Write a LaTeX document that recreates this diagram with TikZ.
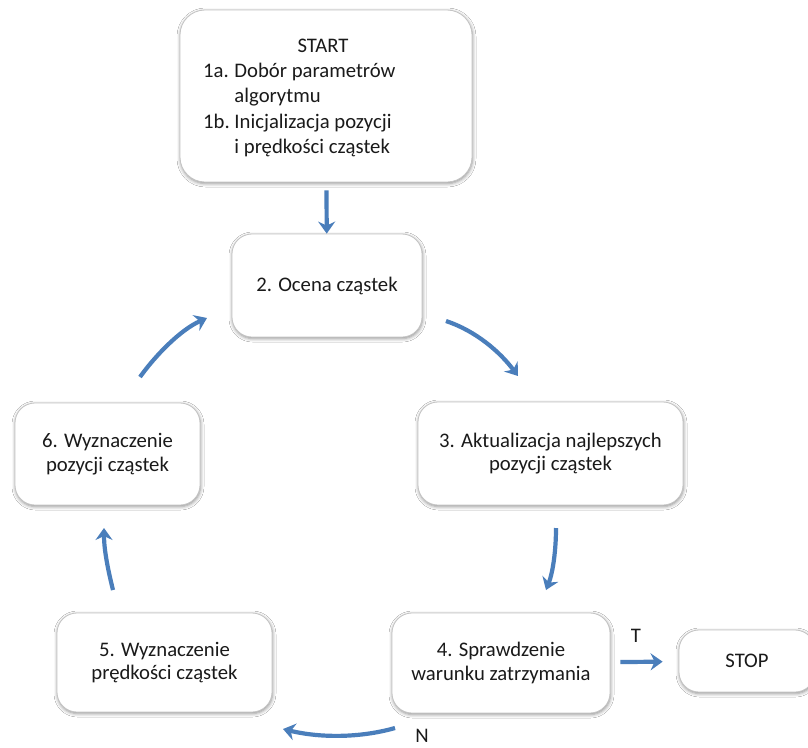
\documentclass[tikz,border=0pt]{standalone}
\usepackage{fontspec}
\setmainfont{Carlito}
\usetikzlibrary{arrows.meta,shadows.blur}
\definecolor{flowblue}{HTML}{4A7EBB}
\definecolor{boxedge}{HTML}{C4C4C4}
\definecolor{txt}{HTML}{1A1A1A}
\newcommand\boxfont{\fontsize{20.7}{23.5}\selectfont}
\newcommand\startfont{\fontsize{20.7}{25.5}\selectfont}
\begin{document}
\begin{tikzpicture}[x=1pt,y=-1pt,
  stepbox/.style={draw=boxedge, line width=0.8pt, fill=white,
    rounded corners=20pt, align=center, text=txt, font=\boxfont,
    inner sep=0pt,
    blur shadow={shadow xshift=0.5pt, shadow yshift=-1.5pt,
      shadow blur radius=3.5pt, shadow opacity=45}},
  flow/.style={draw=flowblue, line width=4.2pt,
    -{Stealth[length=12pt,width=17pt,inset=4pt]}},
  lbl/.style={font=\boxfont, text=txt, inner sep=0pt}]

% page frame
\clip (0,0) rectangle (808,747);
\fill[white] (0,0) rectangle (808,747);

% boxes of the flow chart
\node[stepbox, rounded corners=25pt, minimum width=292pt, minimum height=172pt] (start) at (326,96) {};
\node[lbl, anchor=base] (starthead) at (323,52) {START};
\node[lbl, anchor=base west, font=\startfont] (startlist) at (203,77)
  {\begin{tabular}[t]{@{}l@{\hspace{4.7pt}}l@{}}
   1a. & Dobór parametrów\\
       & algorytmu\\
   1b. & Inicjalizacja pozycji\\
       & i prędkości cząstek
   \end{tabular}};

\node[stepbox, minimum width=190pt, minimum height=103pt] (ocena) at (327,285.5) {2. Ocena cząstek};
\node[stepbox, minimum width=265pt, minimum height=103pt] (aktual) at (550.5,453.5)
  {3. Aktualizacja najlepszych\\pozycji cząstek};
\node[stepbox, minimum width=185pt, minimum height=102pt] (pozycje) at (107.5,454)
  {6. Wyznaczenie\\pozycji cząstek};
\node[stepbox, minimum width=215pt, minimum height=99pt] (predkosci) at (164.5,662.5)
  {5. Wyznaczenie\\prędkości cząstek};
\node[stepbox, minimum width=218pt, minimum height=100pt] (warunek) at (501,663)
  {4. Sprawdzenie\\warunku zatrzymania};
\node[stepbox, minimum width=136pt, minimum height=62pt] (stop) at (747,661) {STOP};

% free ends of the curved arrows
\coordinate (a23s) at (446,321);  \coordinate (a23e) at (518,376);
\coordinate (a34s) at (556,528);  \coordinate (a34e) at (546,590);
\coordinate (a45s) at (395,728);  \coordinate (a45e) at (283,729);
\coordinate (a56s) at (113,590);  \coordinate (a56e) at (104,528);
\coordinate (a62s) at (140,377);  \coordinate (a62e) at (207,318);

% connectors
\draw[flow, shorten <=8pt] (start) -- (ocena);
\draw[flow] (a23s) .. controls (476,331) and (500,352) .. (a23e);
\draw[flow] (a34s) .. controls (556,550) and (553,572) .. (a34e);
\draw[flow] (a45s) .. controls (360,738) and (320,738) .. (a45e);
\draw[flow] (a56s) .. controls (108,570) and (104,550) .. (a56e);
\draw[flow] (a62s) .. controls (155,356) and (180,330) .. (a62e);
\draw[flow, shorten <=10pt, shorten >=16pt] (warunek) -- (stop);

% branch labels
\node[lbl] (tlabel) at (636,636) {T};
\node[lbl] (nlabel) at (422,735.5) {N};
\end{tikzpicture}
\end{document}
